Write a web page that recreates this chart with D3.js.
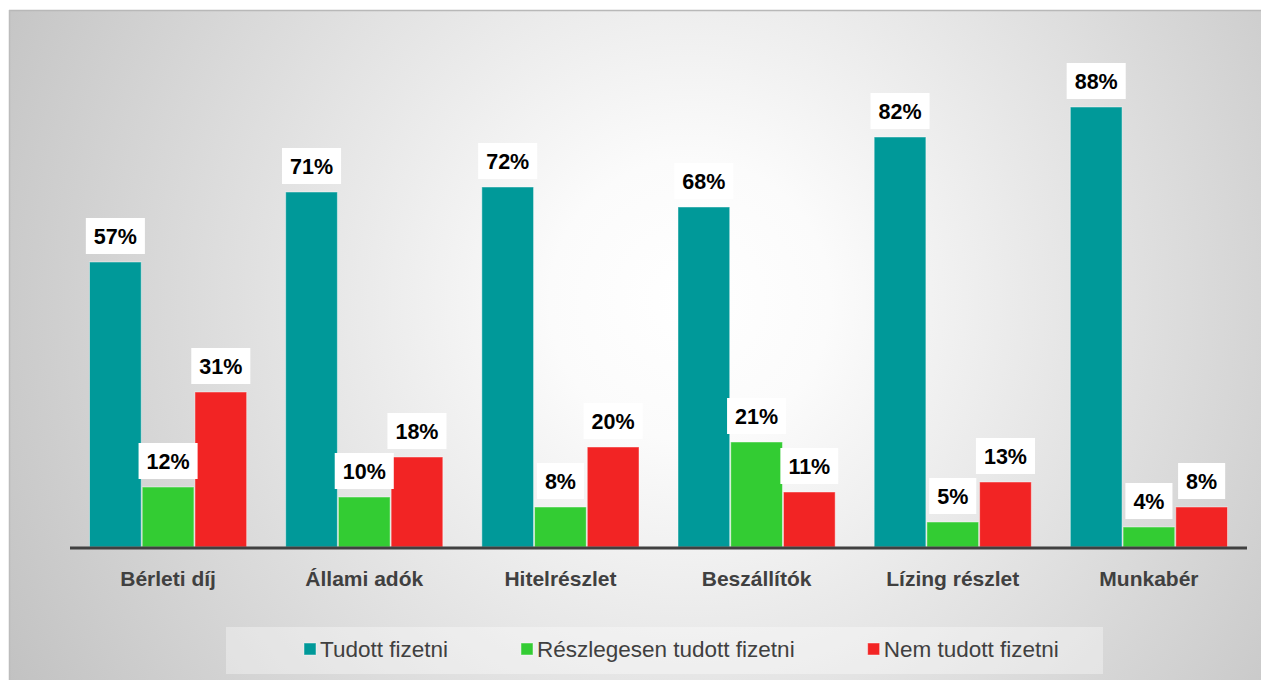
<!DOCTYPE html>
<html>
<head>
<meta charset="utf-8">
<script src="https://cdn.jsdelivr.net/npm/d3@7"></script>
<style>
  body { margin: 0; background: #fff; }
  svg { display: block; }
</style>
</head>
<body>
<div id="chart"></div>
<script>
// adatok
const categories = ["Bérleti díj", "Állami adók", "Hitelrészlet", "Beszállítók", "Lízing részlet", "Munkabér"];
const seriesNames = ["Tudott fizetni", "Részlegesen tudott fizetni", "Nem tudott fizetni"];
const tudott = [57, 71, 72, 68, 82, 88];
const reszleges = [12, 10, 8, 21, 5, 4];
const nemTudott = [31, 18, 20, 11, 13, 8];
const colors = ["#009999", "#33cc33", "#f22424"];

const width = 1261;
const height = 680;
const margin = {top: 47, right: 14, bottom: 133, left: 70};

const svg = d3.select("#chart").append("svg")
    .attr("width", width)
    .attr("height", height);

// háttér
const defs = svg.append("defs");
const grad = defs.append("radialGradient")
    .attr("id", "bg")
    .attr("gradientUnits", "userSpaceOnUse")
    .attr("cx", 690).attr("cy", 300).attr("r", 780);
grad.append("stop").attr("offset", "0").attr("stop-color", "#ffffff");
grad.append("stop").attr("offset", "0.18").attr("stop-color", "#fbfbfb");
grad.append("stop").attr("offset", "1").attr("stop-color", "#c2c2c2");

svg.append("rect")
    .attr("x", 9).attr("y", 10)
    .attr("width", width - 9).attr("height", height - 10)
    .attr("fill", "url(#bg)");
svg.append("line")
    .attr("x1", 9).attr("x2", width).attr("y1", 10.5).attr("y2", 10.5)
    .attr("stroke", "#b8b8b8").attr("stroke-width", 1.5);
svg.append("line")
    .attr("x1", 9.5).attr("x2", 9.5).attr("y1", 10).attr("y2", height)
    .attr("stroke", "#bcbcbc").attr("stroke-width", 1.5);

const data = categories.map(function(c, i) {
  return {cat: c, values: [tudott[i], reszleges[i], nemTudott[i]]};
});

const x = d3.scaleBand()
    .domain(categories)
    .range([margin.left, width - margin.right]);

const xSub = d3.scaleBand()
    .domain(d3.range(seriesNames.length))
    .range([19, x.bandwidth() - 19]);

const y = d3.scaleLinear()
    .domain([0, 100])
    .range([height - margin.bottom, margin.top]);

const groups = svg.append("g")
  .selectAll("g")
  .data(data)
  .enter().append("g")
    .attr("transform", function(d) { return "translate(" + x(d.cat) + ",0)"; });

groups.selectAll("rect")
  .data(function(d) { return d.values; })
  .enter().append("rect")
    .attr("x", function(d, i) { return xSub(i) + 0.5; })
    .attr("y", function(d) { return y(d); })
    .attr("width", xSub.bandwidth() - 1)
    .attr("height", function(d) { return y(0) - y(d); })
    .attr("fill", function(d, i) { return colors[i]; })
    .attr("stroke", "#ffffff")
    .attr("stroke-opacity", 0.45)
    .attr("stroke-width", 1);

// címkék
const labels = groups.selectAll("g.lbl")
  .data(function(d) { return d.values; })
  .enter().append("g")
    .attr("class", "lbl")
    .attr("transform", function(d, i) {
      return "translate(" + (xSub(i) + xSub.bandwidth() / 2) + "," + (y(d) - 26) + ")";
    });

labels.append("rect").attr("fill", "#ffffff");
labels.append("text")
    .attr("text-anchor", "middle")
    .attr("dy", "0.36em")
    .attr("font-family", "'Liberation Sans', Arial, sans-serif")
    .attr("font-weight", "bold")
    .attr("font-size", 21.5)
    .attr("fill", "#000")
    .text(function(d) { return d + "%"; });

labels.each(function() {
  const g = d3.select(this);
  const w = g.select("text").node().getComputedTextLength() + 16;
  g.select("rect")
    .attr("x", -w / 2).attr("y", -18)
    .attr("width", w).attr("height", 36);
});

// tengely
svg.append("line")
    .attr("x1", margin.left).attr("x2", width - margin.right)
    .attr("y1", y(0) + 1).attr("y2", y(0) + 1)
    .attr("stroke", "#404040")
    .attr("stroke-width", 3);

svg.append("g")
  .selectAll("text")
  .data(categories)
  .enter().append("text")
    .attr("x", function(d) { return x(d) + x.bandwidth() / 2; })
    .attr("y", 586)
    .attr("text-anchor", "middle")
    .attr("font-family", "'Liberation Sans', Arial, sans-serif")
    .attr("font-weight", "bold")
    .attr("font-size", 21)
    .attr("fill", "#404040")
    .text(function(d) { return d; });

// jelmagyarázat
svg.append("rect")
    .attr("x", 226).attr("y", 627)
    .attr("width", 877).attr("height", 47)
    .attr("fill", "#ffffff")
    .attr("fill-opacity", 0.35);

const legend = svg.append("g");
let lx = 304;
seriesNames.forEach(function(name, i) {
  const item = legend.append("g").attr("transform", "translate(" + lx + ",0)");
  item.append("rect")
      .attr("x", 0).attr("y", 643)
      .attr("width", 12).attr("height", 12)
      .attr("fill", colors[i])
      .attr("stroke", "#ffffff").attr("stroke-opacity", 0.45);
  const t = item.append("text")
      .attr("x", 16).attr("y", 657)
      .attr("font-family", "'Liberation Sans', Arial, sans-serif")
      .attr("font-size", 22.5)
      .attr("fill", "#404040")
      .text(name);
  lx += 16 + t.node().getComputedTextLength() + 73;
});
</script>
</body>
</html>
